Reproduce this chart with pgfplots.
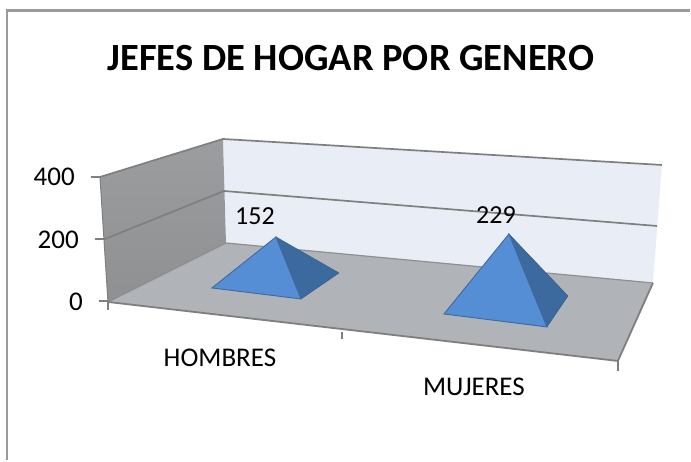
\documentclass[border=0pt]{standalone}
\usepackage{pgfplots}
\pgfplotsset{compat=1.18}
\usepackage{fontspec}
\setmainfont{Carlito}
\definecolor{floorc}{HTML}{B0B3B7}
\definecolor{wallA}{HTML}{8F9092}
\definecolor{wallB}{HTML}{9C9D9F}
\definecolor{backc}{HTML}{E9EDF6}
\definecolor{gridc}{HTML}{7F7F7F}
\definecolor{pyrL}{HTML}{558ED5}
\definecolor{pyrR}{HTML}{3D6A9E}
\definecolor{framec}{HTML}{9A9A9A}
\begin{document}
\begin{tikzpicture}
\begin{axis}[
  width=691pt,height=461pt,scale only axis,
  xmin=0,xmax=691,ymin=0,ymax=461,y dir=reverse,
  hide axis,clip=false,
]
% page
\addplot[fill=white,draw=none] coordinates {(0,0) (691,0) (691,461) (0,461)} -- cycle;
% frame
\addplot[framec,line width=2.2pt] coordinates {(7,460) (7,10.5) (690,10.5)};
% back wall
\addplot[fill=backc,draw=none] coordinates {(223,139) (662,165) (653,283) (226,243)} -- cycle;
% left wall
\addplot[draw=none,left color=wallB,right color=wallA,shading angle=0] coordinates {(100,177) (223,139) (226,243) (108,302)} -- cycle;
% floor
\addplot[fill=floorc,draw=none] coordinates {(226,243) (653,283) (618,361) (108,302)} -- cycle;
% gridlines
\addplot[gridc,line width=1.7pt] coordinates {(100,177) (223,139) (662,165)};
\addplot[gridc,line width=1.7pt] coordinates {(105,239) (224,191) (657,226)};
\addplot[gridc!70!floorc,line width=1.2pt] coordinates {(108,302) (226,243) (653,283)};
% floor and wall edges
\addplot[gridc,line width=1.8pt] coordinates {(108,302) (618,361) (653,283)};
\addplot[gridc,line width=1pt] coordinates {(100,177) (108,302)};
% tick marks
\addplot[gridc,line width=1.5pt] coordinates {(91,177) (100,177)};
\addplot[gridc,line width=1.5pt] coordinates {(95,239) (105,239)};
\addplot[gridc,line width=1.5pt] coordinates {(99,301) (108,301)};
\addplot[gridc,line width=1.5pt] coordinates {(108,302) (108,310)};
\addplot[gridc,line width=1.5pt] coordinates {(342,332) (342,339)};
\addplot[gridc,line width=1.5pt] coordinates {(618,361) (618,371)};
% pyramid HOMBRES (152)
\addplot[fill=pyrR,draw=pyrR!85!black,line width=0.5pt] coordinates {(276,237) (339,273) (301,299)} -- cycle;
\addplot[fill=pyrL,draw=pyrR,line width=0.9pt] coordinates {(276,237) (301,299) (212,288)} -- cycle;
% pyramid MUJERES (229)
\addplot[fill=pyrR,draw=pyrR!85!black,line width=0.5pt] coordinates {(509,234) (568,296) (547,327)} -- cycle;
\addplot[fill=pyrL,draw=pyrR,line width=0.9pt] coordinates {(509,234) (547,327) (444,314)} -- cycle;
% data labels
\addplot[draw=none,mark=none,nodes near coords,point meta=explicit symbolic,
  every node near coord/.style={font=\fontsize{26}{26}\selectfont,anchor=center,inner sep=0pt}]
  coordinates {(255,216) [152] (496,215) [229]};
% texts
\node[font=\fontsize{38.5}{38.5}\selectfont\bfseries,anchor=center] at (axis cs:351,58) {JEFES DE HOGAR POR GENERO};
\node[font=\fontsize{27}{27}\selectfont,anchor=east,inner sep=0pt] at (axis cs:75,177) {400};
\node[font=\fontsize{27}{27}\selectfont,anchor=east,inner sep=0pt] at (axis cs:79,240) {200};
\node[font=\fontsize{27}{27}\selectfont,anchor=east,inner sep=0pt] at (axis cs:83,302) {0};
\node[font=\fontsize{27}{27}\selectfont,anchor=center,inner sep=0pt] at (axis cs:220,358) {HOMBRES};
\node[font=\fontsize{27}{27}\selectfont,anchor=center,inner sep=0pt] at (axis cs:474,387) {MUJERES};
\end{axis}
\end{tikzpicture}
\end{document}
